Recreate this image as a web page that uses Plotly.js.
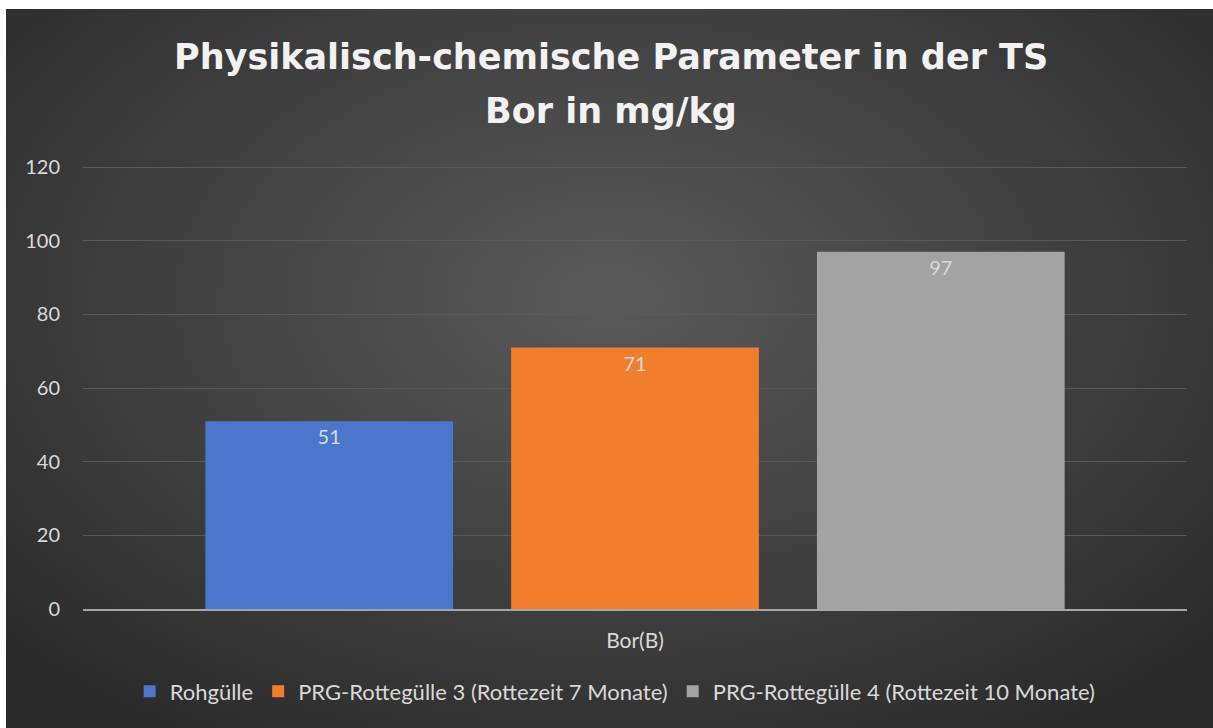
<!DOCTYPE html>
<html>
<head>
<meta charset="utf-8">
<script src="https://cdn.plot.ly/plotly-3.0.1.min.js"></script>
<style>
  body { margin: 0; background: #ffffff; }
  #plot {
    position: absolute; left: 6px; top: 9px; width: 1207px; height: 719px;
    background: radial-gradient(ellipse 70% 75% at 50% 40%, #595959 0%, #444444 45%, #292929 100%);
  }
</style>
</head>
<body>
<div id="plot"></div>
<script>
const categories = ['Bor(B)'];
const seriesNames = ['Rohgülle', 'PRG-Rottegülle 3 (Rottezeit 7 Monate)', 'PRG-Rottegülle 4 (Rottezeit 10 Monate)'];
const rohguelle = [51];
const rottegulle3 = [71];
const rottegulle4 = [97];
const titleLines = ['Physikalisch-chemische Parameter in der TS', 'Bor in mg/kg'];
const colors = ['#4a76cc', '#f07e2c', '#a3a3a3'];

const values = [rohguelle, rottegulle3, rottegulle4];

const data = values.map((v, i) => ({
    type: 'bar',
    x: categories,
    y: v,
    name: seriesNames[i],
    marker: { color: colors[i] },
    text: v.map(String),
    textposition: 'inside',
    insidetextanchor: 'end',
    textfont: { color: '#d9d9d9', size: 20, family: 'Lato, sans-serif' },
    hoverinfo: 'skip'
}));

const titleFont = { family: 'DejaVu Sans, sans-serif', size: 35, color: '#f2f2f2', weight: 'bold' };

const layout = {
    width: 1207,
    height: 719,
    paper_bgcolor: 'rgba(0,0,0,0)',
    plot_bgcolor: 'rgba(0,0,0,0)',
    margin: { l: 77, r: 26, t: 157, b: 119 },
    font: { family: 'Lato, sans-serif', color: '#d9d9d9' },
    barmode: 'group',
    bargap: 0.169,
    bargroupgap: 0.19,
    xaxis: {
        showgrid: false,
        showline: true,
        linecolor: '#a6a6a6',
        linewidth: 2,
        ticks: '',
        ticklabelstandoff: 12,
        tickfont: { size: 21, color: '#d9d9d9' }
    },
    yaxis: {
        range: [0, 120.3],
        tickvals: [0, 20, 40, 60, 80, 100, 120],
        showgrid: true,
        gridcolor: '#5a5a5a',
        gridwidth: 1,
        zeroline: false,
        ticks: '',
        ticklabelstandoff: 22,
        tickfont: { size: 20, color: '#d9d9d9' }
    },
    annotations: [
        { text: titleLines[0], xref: 'paper', yref: 'paper', x: 0.478, y: 1.246, xanchor: 'center', yanchor: 'middle', showarrow: false, font: titleFont },
        { text: titleLines[1], xref: 'paper', yref: 'paper', x: 0.478, y: 1.124, xanchor: 'center', yanchor: 'middle', showarrow: false, font: titleFont }
    ],
    showlegend: true,
    legend: {
        orientation: 'h',
        x: 0.482,
        xanchor: 'center',
        y: -0.186,
        yanchor: 'middle',
        font: { size: 22, color: '#d9d9d9' },
        itemwidth: 30,
        bgcolor: 'rgba(0,0,0,0)'
    }
};

Plotly.newPlot('plot', data, layout, { displayModeBar: false });
</script>
</body>
</html>
